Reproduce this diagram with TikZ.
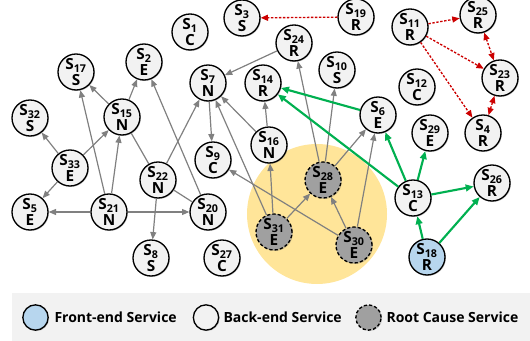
\documentclass[tikz,border=0pt]{standalone}
\usepackage{fontspec}
\setmainfont{Open Sans}
\usetikzlibrary{arrows.meta,shadows}

\definecolor{svcfill}{RGB}{242,242,242}
\definecolor{frontfill}{RGB}{183,214,238}
\definecolor{rootfill}{RGB}{160,160,160}
\definecolor{hotzone}{RGB}{255,229,153}
\definecolor{callgray}{RGB}{128,128,128}
\definecolor{pathgreen}{RGB}{0,176,80}
\definecolor{faultred}{RGB}{204,0,0}
\definecolor{legendbg}{RGB}{242,242,242}

\newcommand{\svc}[2]{S\textsubscript{#1}\\[-1.5pt]#2}

\tikzset{every picture/.style={line width=0.75pt}}
\tikzset{
svc/.style={circle, draw=black, line width=1pt, fill=svcfill, minimum size=27pt, inner sep=0pt, align=center,
  font=\bfseries\fontsize{11.5}{13}\selectfont,
  drop shadow={shadow xshift=0.7pt, shadow yshift=-0.7pt, opacity=0.35, fill=black!60}},
frontsvc/.style={svc, fill=frontfill},
rootsvc/.style={svc, fill=rootfill, dash pattern=on 2.4pt off 1.6pt},
calls/.style={draw=callgray, line width=0.9pt, -{Triangle[length=5.5pt,width=4.5pt]}},
link/.style={draw=callgray, line width=0.9pt},
hotpath/.style={draw=pathgreen, line width=1.6pt, -{Triangle[length=6pt,width=5pt]}},
fault/.style={draw=faultred, line width=1pt, dash pattern=on 1.8pt off 1.2pt, -{Triangle[length=5.5pt,width=4.5pt]}},
faultboth/.style={fault, {Triangle[length=5.5pt,width=4.5pt]}-{Triangle[length=5.5pt,width=4.5pt]}},
legendtext/.style={anchor=west, inner sep=0.75pt, font=\bfseries\fontsize{10.5}{12}\selectfont}
}

\begin{document}
\begin{tikzpicture}[x=0.75pt,y=0.75pt,yscale=-1,xscale=1]
\useasboundingbox (0,0) rectangle (530,341);

%Shape: Circle [root cause area]
\fill [hotzone] (317,214) circle [radius=70];

%Services
\node [svc] (S1) at (190,32) {\svc{1}{C}};
\node [svc] (S2) at (144,62) {\svc{2}{E}};
\node [svc] (S3) at (242,18) {\svc{3}{S}};
\node [svc] (S4) at (483,133) {\svc{4}{R}};
\node [svc] (S5) at (30,212) {\svc{5}{E}};
\node [svc] (S6) at (378,115) {\svc{6}{E}};
\node [svc] (S7) at (208,83) {\svc{7}{N}};
\node [svc] (S8) at (151,258) {\svc{8}{S}};
\node [svc] (S9) at (213,160) {\svc{9}{C}};
\node [svc] (S10) at (337,70) {\svc{10}{S}};
\node [svc] (S11) at (410,27) {\svc{11}{R}};
\node [svc] (S12) at (417,87) {\svc{12}{C}};
\node [svc] (S13) at (413,198) {\svc{13}{C}};
\node [svc] (S14) at (263,83) {\svc{14}{R}};
\node [svc] (S15) at (122,117) {\svc{15}{N}};
\node [svc] (S16) at (269,145) {\svc{16}{N}};
\node [svc] (S17) at (76,72) {\svc{17}{S}};
\node [frontsvc] (S18) at (427,257) {\svc{18}{R}};
\node [svc] (S19) at (356,17) {\svc{19}{R}};
\node [svc] (S20) at (208,212) {\svc{20}{N}};
\node [svc] (S21) at (109,212) {\svc{21}{N}};
\node [svc] (S22) at (158,180) {\svc{22}{N}};
\node [svc] (S23) at (500,78) {\svc{23}{R}};
\node [svc] (S24) at (294,43) {\svc{24}{R}};
\node [svc] (S25) at (478,15) {\svc{25}{R}};
\node [svc] (S26) at (492,183) {\svc{26}{R}};
\node [svc] (S27) at (222,258) {\svc{27}{C}};
\node [rootsvc] (S28) at (323,180) {\svc{28}{E}};
\node [svc] (S29) at (430,133) {\svc{29}{E}};
\node [rootsvc] (S30) at (354,245) {\svc{30}{E}};
\node [rootsvc] (S31) at (274,232) {\svc{31}{E}};
\node [svc] (S32) at (30,118) {\svc{32}{S}};
\node [svc] (S33) at (70,168) {\svc{33}{E}};

%Straight Lines [calls]
\draw [calls] (S24) -- (S7);
\draw [calls] (S16) -- (S14);
\draw [calls] (S16) -- (S7);
\draw [calls] (S7) -- (S9);
\draw [calls] (S15) -- (S17);
\draw [calls] (S15) -- (S2);
\draw [calls] (S33) -- (S32);
\draw [calls] (S33) -- (S15);
\draw [calls] (S33) -- (S5);
\draw [calls] (S21) -- (S5);
\draw [calls] (S21) -- (S20);
\draw [calls] (S21) -- (S15);
\draw [calls] (S21) -- (S17);
\draw [calls] (S22) -- (S7);
\draw [calls] (S20) -- (S2);
\draw [calls] (S22) -- (S8);
\draw [calls] (S31) -- (S16);
\draw [calls] (S31) -- (S7);
\draw [calls] (S31) -- (S28);
\draw [calls] (S30) -- (S28);
\draw [calls] (S30) -- (S9);
\draw [calls] (S30) -- (S6);
\draw [calls] (S28) -- (S6);
\draw [calls] (S28) -- (S10);
\draw [calls] (S28) -- (S24);
\draw [link] (S15) -- (S22);
\draw [link] (S22) -- (S20);

%Straight Lines [green path]
\draw [hotpath] (S6) -- (S14);
\draw [hotpath] (S13) -- (S14);
\draw [hotpath] (S13) -- (S6);
\draw [hotpath] (S13) -- (S29);
\draw [hotpath] (S13) -- (S26);
\draw [hotpath] (S18) -- (S13);
\draw [hotpath] (S18) -- (S26);

%Straight Lines [red dotted]
\draw [fault] (S19) -- (S3);
\draw [fault] (S11) -- (S25);
\draw [fault] (S11) -- (S23);
\draw [fault] (S11) -- (S4);
\draw [faultboth] (S25) -- (S23);
\draw [faultboth] (S23) -- (S4);

%Shape: Rectangle [legend]
\fill [legendbg] (12,293) rectangle (530,341);
\node [frontsvc, minimum size=19pt] (lgfront) at (35.5,317.5) {};
\node [svc, minimum size=19pt] (lgback) at (206,317.5) {};
\node [rootsvc, minimum size=19pt] (lgroot) at (368.5,317.5) {};

% Text Node
\node [legendtext] (lgfronttxt) at (53,317.5) {Front-end Service};
% Text Node
\node [legendtext] (lgbacktxt) at (222,317.5) {Back-end Service};
% Text Node
\node [legendtext] (lgroottxt) at (385,317.5) {Root Cause Service};

\end{tikzpicture}
\end{document}
